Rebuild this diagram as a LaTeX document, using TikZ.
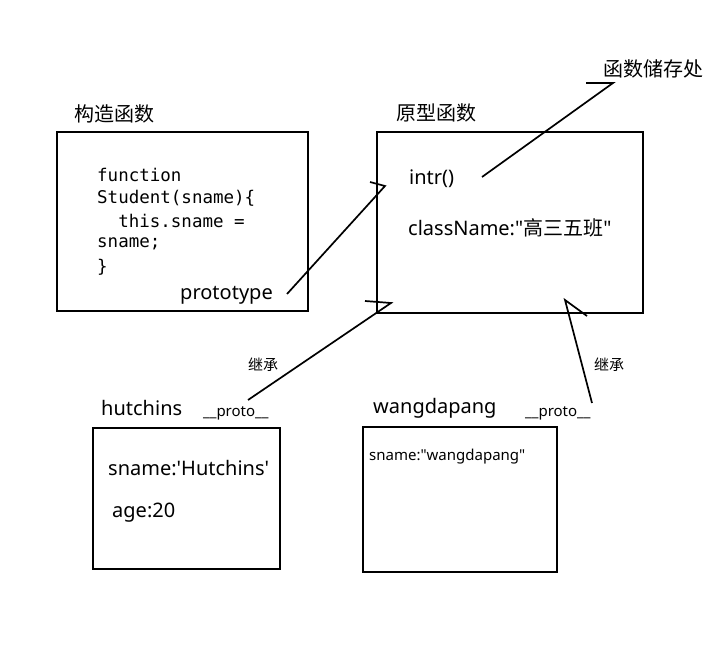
\documentclass[tikz,border=0pt]{standalone}
\usepackage{fontspec}
\setmainfont{Noto Sans}
\setmonofont{DejaVu Sans Mono}
\newfontfamily\cjk{Noto Sans CJK SC}
\begin{document}
\begin{tikzpicture}[x=1pt,y=-1pt,
  box/.style={draw,line width=2.2pt},
  hook/.style={line width=1.7pt,line join=miter},
  lbl/.style={anchor=west,inner sep=0pt,yshift=-2pt,font=\fontsize{20}{24}\selectfont},
  title/.style={lbl,yshift=1pt,font=\cjk\fontsize{20}{24}\selectfont},
  tiny/.style={lbl,font=\fontsize{15}{18}\selectfont},
  small/.style={anchor=center,inner sep=0pt,font=\cjk\fontsize{15}{18}\selectfont},
  code/.style={anchor=west,inner sep=0pt,font=\ttfamily\fontsize{17.5}{20}\selectfont}]
\useasboundingbox (0,0) rectangle (710,660);
% boxes
\draw[box] (57,132) rectangle (308,311);
\draw[box] (377,132) rectangle (643,313);
\draw[box] (93,428) rectangle (280,569);
\draw[box] (363,427) rectangle (557,572);
% titles
\node[title] (ctorTitle) at (74,113) {构造函数};
\node[title] (protoTitle) at (396,112) {原型函数};
\node[title] (store) at (603,68) {函数储存处};
\node[lbl] (hutTitle) at (101,406) {hutchins};
\node[lbl] (wangTitle) at (373,406) {wangdapang};
% constructor code
\node[code] (code1) at (97,175) {function};
\node[code] (code2) at (97,198) {Student(sname)\{};
\node[code] (code3) at (97,221) {\phantom{xx}this.sname =};
\node[code] (code4) at (97,244) {sname;};
\node[code] (code5) at (97,267) {\}};
\node[lbl] (prototype) at (180,293) {prototype};
% prototype object
\node[lbl] (intr) at (409,177) {intr()};
\node[lbl] (cls) at (408,226) {className:\textquotedbl{\cjk 高三五班}\textquotedbl};
% instances
\node[lbl] (hutName) at (108,466) {sname:\textquotesingle Hutchins\textquotesingle};
\node[lbl] (hutAge) at (112,511) {age:20};
\node[tiny] (wangName) at (369,455) {sname:\textquotedbl wangdapang\textquotedbl};
\node[tiny] (hutProto) at (203,411) {\_\_proto\_\_};
\node[tiny] (wangProto) at (525,411) {\_\_proto\_\_};
\node[small] (inhLeft) at (263,365) {继承};
\node[small] (inhRight) at (609,365) {继承};
% hand drawn arrows
\coordinate (tipA) at (385,186);
\coordinate (tipB) at (613,83);
\coordinate (tipC) at (391,303);
\coordinate (tipD) at (565,300);
\coordinate (tailA) at (287,294);
\coordinate (tailB) at (482,177);
\coordinate (tailC) at (248,400);
\coordinate (tailD) at (592,403);
\draw[hook] (tailA) -- (tipA) -- ++(-15,-4);
\draw[hook] (tailB) -- (tipB) -- ++(-27,0);
\draw[hook] (tailC) -- (tipC) -- ++(-26,-2);
\draw[hook] (tailD) -- (tipD) -- ++(22,16);
\end{tikzpicture}
\end{document}
